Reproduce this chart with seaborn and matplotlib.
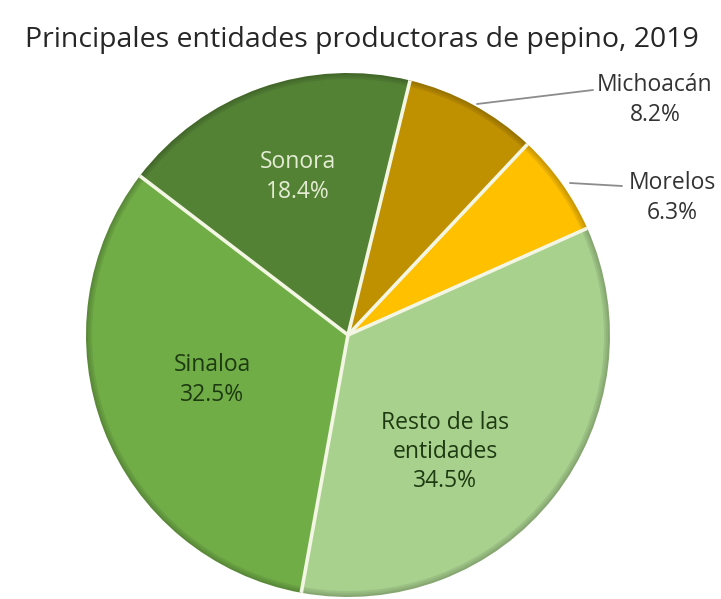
import matplotlib
matplotlib.use("Agg")
import matplotlib.pyplot as plt
import numpy as np
import seaborn as sns
from matplotlib.colors import to_rgb
from matplotlib.patches import Circle

# ---- data ----
entidades = ["Michoacán", "Morelos", "Resto de las\nentidades", "Sinaloa", "Sonora"]
porcentajes = [8.2, 6.3, 34.5, 32.5, 18.4]
colores = ["#BF9000", "#FFC000", "#A9D18E", "#70AD47", "#548235"]
titulo = "Principales entidades productoras de pepino, 2019"

sns.set_theme(style="white")
plt.rcParams["font.family"] = ["Open Sans", "DejaVu Sans"]

W, H = 721, 599
fig = plt.figure(figsize=(W / 100, H / 100), dpi=100)
ax = fig.add_axes([0, 0, 1, 1])

cx, cy, r = 348, H - 335, 262


def darken(c, f):
    rr, gg, bb = to_rgb(c)
    return (rr * f, gg * f, bb * f)


# soft bevel: several concentric layers from darker rim to main colour
layers = [(0, 0.80), (2, 0.86), (4, 0.92), (6, 1.0)]
wedges = None
for dr, f in layers:
    wedges, _ = ax.pie(porcentajes, colors=[darken(c, f) for c in colores], startangle=76.3,
                       counterclock=False, center=(cx, cy), radius=r - dr,
                       wedgeprops=dict(linewidth=0), frame=True)

# white separators along wedge boundaries
for w in wedges:
    th = np.deg2rad(w.theta1)
    ax.plot([cx, cx + r * np.cos(th)], [cy, cy + r * np.sin(th)],
            color="#F4F6E4", lw=2.6, solid_capstyle="butt", zorder=5)

ax.set_xlim(0, W)
ax.set_ylim(0, H)
ax.set_aspect("equal")
ax.axis("off")

fs = 16.5
ls = 1.3
# inside labels
ax.text(298, H - 177, f"{entidades[4]}\n{porcentajes[4]}%", ha="center", va="center",
        fontsize=fs, color="#E4ECD4", linespacing=ls, zorder=6)
ax.text(212, H - 380, f"{entidades[3]}\n{porcentajes[3]}%", ha="center", va="center",
        fontsize=fs, color="#1E3A12", linespacing=ls, zorder=6)
ax.text(445, H - 452, f"{entidades[2]}\n{porcentajes[2]}%", ha="center", va="center",
        fontsize=fs, color="#1E3A12", linespacing=ls, zorder=6)

# outside labels with leader lines
ax.plot([477, 593], [H - 104, H - 90], color="#8C8C8C", lw=1.3)
ax.text(655, H - 100, f"{entidades[0]}\n{porcentajes[0]}%", ha="center", va="center",
        fontsize=fs, color="#333333", linespacing=ls)
ax.plot([570, 622], [H - 183, H - 186], color="#8C8C8C", lw=1.3)
ax.text(672, H - 198, f"{entidades[1]}\n{porcentajes[1]}%", ha="center", va="center",
        fontsize=fs, color="#333333", linespacing=ls)

fig.text(362 / W, 1 - 40 / H, titulo, ha="center", va="center", fontsize=20.5, color="#262626")

fig.savefig("out.png", dpi=100, facecolor="white")
